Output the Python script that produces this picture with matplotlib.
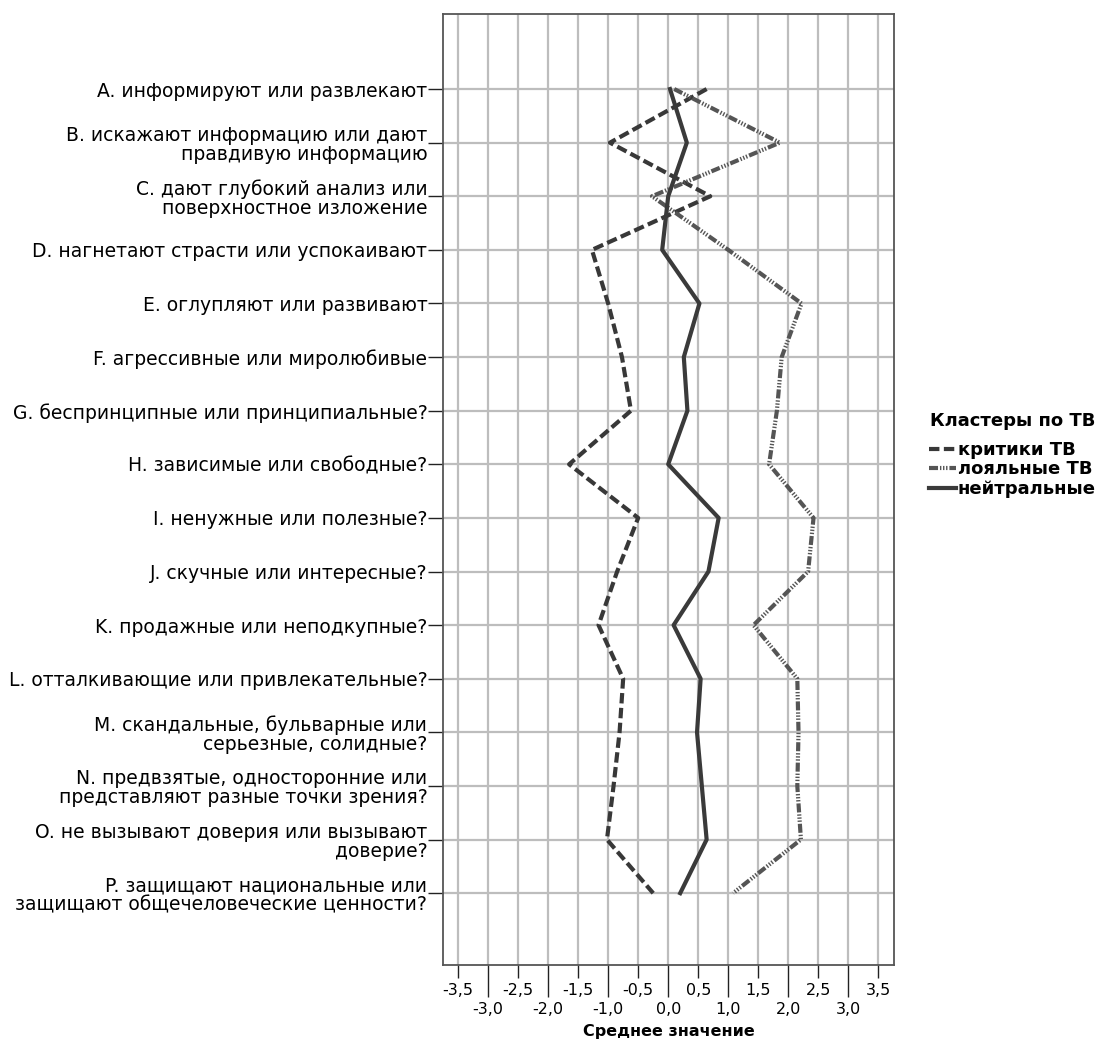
import matplotlib
matplotlib.use("Agg")
import matplotlib.pyplot as plt
import numpy as np

plt.rcParams['font.family'] = ['DejaVu Sans']
plt.rcParams['lines.scale_dashes'] = False

categories = [
    "A. информируют или развлекают",
    "B. искажают информацию или дают\nправдивую информацию",
    "C. дают глубокий анализ или\nповерхностное изложение",
    "D. нагнетают страсти или успокаивают",
    "E. оглупляют или развивают",
    "F. агрессивные или миролюбивые",
    "G. беспринципные или принципиальные?",
    "H. зависимые или свободные?",
    "I. ненужные или полезные?",
    "J. скучные или интересные?",
    "K. продажные или неподкупные?",
    "L. отталкивающие или привлекательные?",
    "M. скандальные, бульварные или\nсерьезные, солидные?",
    "N. предвзятые, односторонние или\nпредставляют разные точки зрения?",
    "O. не вызывают доверия или вызывают\nдоверие?",
    "P. защищают национальные или\nзащищают общечеловеческие ценности?",
]

critics = [0.64, -0.97, 0.70, -1.27, -1.00, -0.77, -0.62, -1.65, -0.50, -0.85,
           -1.16, -0.75, -0.81, -0.91, -1.02, -0.25]
loyal = [0.10, 1.86, -0.27, 1.00, 2.22, 1.89, 1.81, 1.68, 2.42, 2.33,
         1.42, 2.15, 2.17, 2.15, 2.21, 1.08]
neutral = [0.03, 0.31, 0.00, -0.10, 0.52, 0.26, 0.32, 0.00, 0.84, 0.67,
           0.09, 0.54, 0.48, 0.56, 0.64, 0.20]

series_names = ["критики ТВ", "лояльные ТВ", "нейтральные"]
legend_title = "Кластеры по ТВ"
x_title = "Среднее значение"

major_ticks = [-3.5, -2.5, -1.5, -0.5, 0.5, 1.5, 2.5, 3.5]
major_labels = ["-3,5", "-2,5", "-1,5", "-0,5", "0,5", "1,5", "2,5", "3,5"]
minor_ticks = [-3.0, -2.0, -1.0, 0.0, 1.0, 2.0, 3.0]
minor_labels = ["-3,0", "-2,0", "-1,0", "0,0", "1,0", "2,0", "3,0"]

W, H = 1102, 1046
fig = plt.figure(figsize=(W / 100, H / 100), dpi=100)
ax = fig.add_axes([443 / W, 1 - 965 / H, (894 - 443) / W, (965 - 14) / H])

y = np.arange(len(categories))

# grid
for v in major_ticks + minor_ticks:
    ax.axvline(v, color='#bdbdbd', lw=1.6, zorder=1)
for yy in y:
    ax.axhline(yy, color='#bdbdbd', lw=1.6, zorder=1)

l1, = ax.plot(critics, y, color='#383838', lw=3.0, ls=(0, (7.5, 3.2)), zorder=3,
              dash_capstyle='butt')
l2, = ax.plot(loyal, y, color='#555555', lw=3.0,
              ls=(0, (6.5, 1.4, 1.0, 1.2, 1.0, 1.2, 1.0, 1.4)), zorder=3,
              dash_capstyle='butt')
l3, = ax.plot(neutral, y, color='#3a3a3a', lw=3.0, ls='-', zorder=3)

ax.set_xlim(-3.75, 3.76)
ax.set_ylim(len(categories) - 1 + 1.34, -1.4)

ax.set_yticks(y)
ax.set_yticklabels(categories, fontsize=13.5, linespacing=1.0)
ax.tick_params(axis='y', length=10.8, width=1.0, color='#222222', pad=0.5)

ax.set_xticks(major_ticks)
ax.set_xticklabels(major_labels, fontsize=11.5)
ax.set_xticks(minor_ticks, minor=True)
ax.set_xticklabels(minor_labels, minor=True, fontsize=11.5)
ax.tick_params(axis='x', which='major', length=9.5, width=1.0, color='#222222', pad=3.5)
ax.tick_params(axis='x', which='minor', length=23, width=1.0, color='#222222', pad=3.5)

for s in ax.spines.values():
    s.set_color('#555555')
    s.set_linewidth(1.3)

ax.set_xlabel(x_title, fontsize=11.5, fontweight='bold', labelpad=5)

fig.text(930 / W, 1 - 421 / H, legend_title, fontsize=13, fontweight='bold',
         ha='left', va='center')
leg = fig.legend([l1, l2, l3], series_names, loc='upper left',
                 bbox_to_anchor=(929 / W, 1 - 441 / H), frameon=False,
                 handlelength=1.5, handletextpad=0.1, borderpad=0, borderaxespad=0,
                 labelspacing=0.08, prop={'weight': 'bold', 'size': 13})

fig.savefig("out.png", dpi=100)
